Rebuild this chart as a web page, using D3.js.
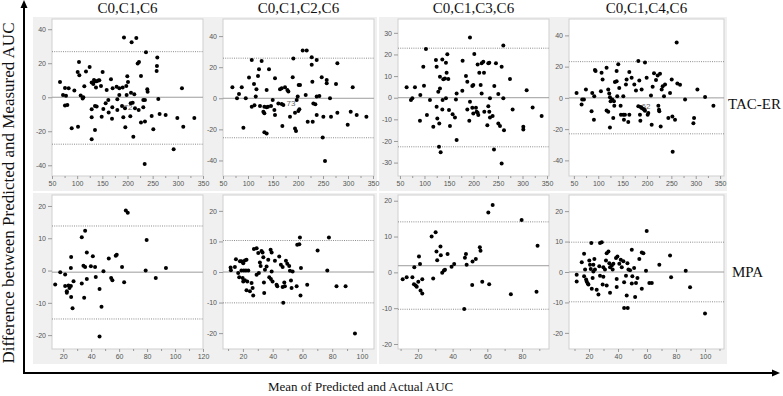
<!DOCTYPE html>
<html>
<head>
<meta charset="utf-8">
<script src="https://cdn.jsdelivr.net/npm/d3@7"></script>
<style>
	body { margin: 0; background: #fff; }
	.tick text { font-family: "Liberation Sans", Arial, sans-serif; font-size: 7px; fill: #555; }
	.tick line { stroke: #9a9a9a; }
	.serif { font-family: "Liberation Serif", "Times New Roman", serif; fill: #111; }
</style>
</head>
<body>
<svg id="chart" width="783" height="396"></svg>
<script>
var titles = ["C0,C1,C6", "C0,C1,C2,C6", "C0,C1,C3,C6", "C0,C1,C4,C6"];
var rowNames = ["TAC-ER", "MPA"];
var yTitle = "Difference between Predicted and Measured AUC";
var xTitle = "Mean of Predicted and Actual AUC";

var tacXTicks = [50, 100, 150, 200, 250, 300, 350];
var tacYTicks = [[-40, -20, 0, 20, 40], [-40, -20, 0, 20, 40], [-30, -20, -10, 0, 10, 20, 30], [-40, -20, 0, 20, 40]];
var mpaXTicks = [[20, 40, 60, 80, 100, 120], [20, 40, 60, 80, 100], [20, 40, 60, 80], [20, 40, 60, 80, 100]];
var mpaYTicks = [-20, -10, 0, 10, 20];

var tacXRange = [[50, 350], [50, 352], [46, 354], [40, 358]];
var tacYRange = [[-46.3, 46], [-50, 51], [-36.2, 36.4], [-50, 50.5]];
var mpaXRange = [[12, 120], [6.6, 108.1], [8.5, 95.6], [6.2, 113.1]];
var mpaYRange = [[-24.3, 23.4], [-25.2, 25.2], [-21.4, 21.6], [-25.3, 25.3]];

var tacMean = [0, 0, 0, 0];
var tacUpper = [26.8, 25.8, 22.9, 23.2];
var tacLower = [-27.6, -25.4, -22.7, -23];
var mpaMean = [-0.5, 0, 1.85, 0];
var mpaUpper = [13.8, 10.3, 14.1, 9.8];
var mpaLower = [-15, -10.1, -10.3, -9.8];

// outlier tags printed next to a point
var tacTags = [["72", 201, -5.7], ["73", 186, -3], null, ["62", 198, -5.6]];

// [mean, difference]
var tacC6 = [[193,35.1],[217.5,34.9],[208.2,32.3],[236.7,26.4],[259.2,23.3],[222.8,20.7],[220.2,19.8],[103.6,20.7],[124.8,17.8],[258.5,18.4],
	[101,14.9],[104.3,12.9],[117.5,15.1],[257.9,15.4],[150.6,14.9],[199.6,12.3],[226.8,12.5],[114.2,6.4],[65.9,9],[83.1,5.3],
	[94.4,3.9],[77.8,0.9],[110.9,-0.8],[112.2,0],[128.8,8.6],[132.1,7.8],[135.4,9.4],[138.7,9.4],[142,9.8],[144,10],
	[137.4,5.8],[147.3,6.6],[167.2,10.6],[170.5,5.3],[178.4,6.2],[183.7,5.3],[190.4,5.7],[201,9],[197.6,6.6],[239.3,4.7],
	[240,3.3],[308.2,5.3],[198.3,1.3],[206.9,2.7],[213.5,1.7],[75.8,-4.9],[80.5,-4.5],[128.8,-7.1],[135.4,-5.1],[138.7,-5.5],
	[152,-6.9],[162.6,-8.9],[169.8,-5.9],[179.8,-7.5],[189.1,-5.1],[195,-6.5],[206.3,-3.6],[210.3,-3.2],[231.4,-1.6],[234.7,-1.6],
	[214.9,-6.5],[231.4,-5.9],[261.2,-1],[128.8,-11.8],[148.7,-11.4],[169.2,-12.6],[191.7,-11.8],[205.6,-11.2],[226.8,-14.9],[234.7,-14.3],
	[263.8,-9.8],[275.8,-10.4],[248,-11],[222.2,-7.5],[89.1,-18.3],[101.7,-17.3],[135.4,-19.2],[195.7,-17.7],[251.3,-18.8],[299,-12.2],
	[310.8,-17.3],[332.8,-12.2],[128.8,-24.7],[211.6,-23.2],[291.7,-30.6],[234.1,-39.2],[75.8,5.5],[71.9,1.3],[156.6,-3.6],[161.9,-1.6],
	[179.8,-1.2],[183.7,1.3],[158.6,4.3],[107,1],[133.4,10.2]];

var tacC2 = [[68.8,7.1],[78,0],[82,2.8],[87.5,7.1],[90.8,-19],[95.5,0],[102,13.3],[107.5,24.7],[112,9.2],[107.5,-5.4],
	[112.9,-4.5],[116.9,5.8],[115.5,1.1],[122,18.7],[120,14.4],[127.3,24],[137.3,5.4],[142,18.7],[154,12.9],[124,-5],
	[132.7,-5.4],[130.7,-8.6],[132.7,-9.7],[137.3,-5.8],[140,-5.4],[146,-5],[149.4,-1.1],[154,-10.8],[152.7,-7.5],[160.7,-3.3],
	[167.4,-3.7],[170.7,-4.3],[164,5.8],[167.4,6.4],[174,7.1],[178.7,5.4],[180.7,4.3],[189.4,13.5],[190.7,25.6],[184,-11.9],
	[194,-19.4],[196,-21.1],[132.7,-21.9],[137.3,-22.6],[168.7,-17.9],[197.4,-1.1],[199.4,1.1],[204,8.6],[201.4,8.6],[202.7,-7.1],
	[194,-9.3],[200.7,-8.2],[209.4,30.7],[217.4,30.7],[215.4,2.1],[219.4,-15.1],[227.4,26.4],[227.4,21.5],[228.7,10.7],[237.4,24.7],
	[229.4,-15.1],[230.7,-3.3],[234.7,-3.9],[237.4,1.1],[242.7,1.5],[237.4,-10.8],[247.4,13.5],[250.7,-11.9],[257.4,11.8],[257.4,9.6],
	[249.4,-25.2],[254,-40.4],[264,0],[266,-11.9],[278.7,22.5],[276,9.2],[278.7,-9.3],[309.4,7.1],[299.4,-17],[305.4,-8.6],
	[317.4,-10.8],[336.8,-11.9]];

var tacC3 = [[63.6,4.8],[72.4,-1.1],[75.2,-0.3],[80.6,4.8],[91.5,1.2],[97.6,14.3],[99,5.5],[105,-8],[111.2,-1.1],[90.8,-10.7],
	[103,22.5],[123.4,17.4],[146.6,20.1],[124.8,-4.2],[129.6,-22.7],[133,-25.2],[118,-13.4],
	[124.8,14.3],[136.4,17.7],[143.8,16.2],[128.2,2.8],[131.6,4.3],[138.4,8.5],[141.8,8.9],[148.6,8.6],[145.2,11.6],
	[131.6,9.7],[137,-1.1],[136.4,-5.4],[126.2,-9.6],[130.2,-11.9],[143.8,-0.3],[150,-5.7],[152,-13.1],[157.4,-7.7],[162.2,-9.1],
	[165.6,-19.6],[164.2,-0.8],[165.6,2],[177.8,17.1],[177.2,3.2],[184.6,10],[187.4,7.4],[192.8,27.9],[192.8,-1.9],[187.4,-5.4],
	[191.4,-10.7],[197.6,-4.6],[197.6,5.4],[199.6,5.9],[201.6,20.2],[199.6,-7.3],[205,-4.6],[206.4,-6.5],[208.4,15.4],[208.4,-7],
	[209.8,-8],[211.8,11.6],[214.6,5.9],[216.6,2],[216.6,15.9],[220,16.6],[221.4,11.6],[222,-6.5],[228.2,-12.7],[230.2,15.9],
	[232.2,16.2],[230.2,-3.9],[232.2,-6.5],[233.6,-0.3],[233.6,-9.1],[239,-8.5],[242.4,5.4],[245.8,15.9],[250.6,1.7],[250.6,-11.9],
	[254,-13.1],[257.4,14.3],[260.8,-0.3],[262.2,-15],[260.8,24.1],[274.4,8.6],[279.8,-5.4],[301.6,-13.4],[301.6,-14.7],[308.4,3.5],
	[320.6,-4.5],[339,-8.5],[241.8,-24],[257.4,-30.4]];

var tacC4 = [[55.5,3.2],[65.8,-4.3],[67.1,-1.1],[70.6,-1.1],[74.7,5.4],[86.3,-8.6],[87.7,3.2],[91.1,-14],[91.8,1],[93.2,17.8],
	[94.5,17.2],[106.8,16.1],[108.9,11.8],[105.5,4.3],[117.1,19.3],[120.5,5.4],[122.6,2.8],[124,0.4],[125.3,-2.2],[128.7,-1.1],
	[132.2,-2.2],[132.9,-5],[134.2,10.1],[137.7,10.7],[139,1],[141.1,21.5],[143.1,6.4],[145.9,-5],[130.8,-12.9],[124,-19],
	[120.5,-8.8],[117.1,-8.1],[146.6,-10.8],[151.4,-10.8],[152.7,-14],[151.4,1],[156.8,8.6],[161.6,-15.5],[163.7,16.5],[137.7,17.2],
	[154.8,-10.8],[163.8,-10.8],[158.2,11.8],[168.5,12.9],[174,8.6],[177.4,4.7],[182.2,23.6],[184.2,11.1],[182.2,-5.4],[187,-5.8],
	[189,-6.5],[192.5,-7.1],[194.5,-7.6],[185.6,-10.8],[186.4,-14.6],[189,5.4],[195.9,-8.2],[195.9,22.6],[199.3,12.9],[201.4,-10.8],
	[202.7,-9.7],[208.2,1.5],[209.6,-17.2],[211.6,7.1],[214.4,15.7],[218.5,11.4],[221.9,14.4],[223.3,-5],[224.6,-7.6],[225.3,-8.6],
	[226.7,15.5],[228.1,-18.3],[230.1,5.4],[232.2,7.5],[234.9,1],[237,8.6],[243.8,-12.9],[247.3,3.2],[250.7,11.8],[252.1,-11.9],
	[257.5,-14],[252.7,-34.4],[260.9,35.4],[262.3,9.2],[267.8,8.4],[278.1,-1.1],[295.2,-16.2],[296.6,-12.9],[303.4,5.4],[319.2,0.6],
	[336.3,-5]];

var mpaC6 = [[14.3,-4.3],[17.9,-0.5],[21.4,-1.2],[21.4,-4.8],[22.6,-6.4],[22.6,-6.9],[23.8,-4.6],[24.5,-5.4],[25.7,-8.2],[25.5,0.8],
	[25.7,4.2],[26.7,-11.7],[27.4,-3.3],[25.5,-4.8],[33.3,10.3],[35.7,12.3],[33.3,-4],[35,-8.4],[34.5,1.5],[35.7,1.1],
	[36.9,5.6],[36.9,-2.6],[39.8,1.3],[41.2,4.4],[42.8,1.1],[43.3,-2],[46,-5.7],[47.4,-11.2],[46,-20.4],[48.8,-0.2],
	[52.6,3.7],[54.3,-2.3],[55.2,-3],[57.6,4.6],[58.3,4.9],[62.1,1.1],[63.6,-3.6],[64.8,18.6],[66.2,17.9],[79,0],
	[79.7,9.5],[86.2,-2.3],[93.5,0.8]];

var mpaC2 = [[11.7,1.5],[11.9,0.6],[15.3,4.2],[14.6,1.6],[16.8,-0.3],[18,3.5],[19,3.5],[20.2,2.9],[21.3,3.8],[22.4,4],
	[17.5,-1.7],[19.8,-2],[20.2,-3.1],[21.3,-2.7],[22.9,-3.1],[19,0.5],[20.6,0.5],[22,0.5],[23.6,0.5],[22.4,-6],
	[24.7,-6.3],[25.8,-3.6],[26.5,-5.2],[26.9,-7.7],[27.4,7.5],[29.2,7.8],[30.3,6.2],[29.2,-0.9],[30.7,-0.3],[31.4,3.1],
	[31.9,2],[32.5,6.9],[33.2,6.4],[33.7,4.8],[34.1,-3.4],[34.3,-6.9],[34.8,0.7],[35.9,1.8],[37,4],[37.7,-1.7],
	[38.6,7.3],[39.3,6.4],[39.3,0.2],[38.8,-2.3],[39.9,-3.1],[41.5,3.7],[42.6,-4.2],[43.1,-4.7],[44.4,5.1],[45.5,2.4],
	[46.7,1.6],[46.7,-4.9],[47.1,-10.1],[47.8,-3.4],[48.2,-4.7],[48.9,3.7],[49.8,2.7],[51.1,2],[51.6,0.4],[52.3,-2.8],
	[52.7,-5.2],[53.4,0.2],[56.1,-4.7],[56.5,8.9],[57.9,9.1],[58.3,11.3],[59,1.3],[58.7,-7.7],[63.2,-4.2],[70.2,7],
	[76.7,0.5],[77.8,11.3],[82.9,-4.7],[89,-4.7],[95.3,-20.1]];

var mpaC3 = [[11.2,-1.9],[13.5,-1.4],[16.8,-1.4],[17.7,-3.3],[18.7,-3.7],[19.3,-4],[17.9,1.4],[20.2,-2.6],[20.6,4.4],[21.2,2.3],
	[21.5,-5.1],[22.5,-5.9],[22.5,-1.9],[27.9,10],[30.2,11.2],[28.8,-1.7],[30.7,5.8],[31.1,3.4],[33,7.2],[33.2,4.8],
	[34,-0.1],[35,0.5],[35.6,0.7],[37.1,5.1],[39.4,1.6],[40.9,2.3],[46.7,-10.2],[47.1,4.1],[47.7,5.1],[48.1,2.1],
	[51.3,-3.5],[51.5,3],[53.4,3.7],[55.7,7],[56.1,6],[57.1,-2.6],[60.6,16.7],[61.1,-3.3],[63.1,18.8],[73.6,-6.1],
	[79.8,14.6],[88.4,-5.4],[89,7.4]];

var mpaC4 = [[11.5,-0.9],[11.5,-3.1],[15,3.2],[16.6,6],[16.6,-1.4],[17.3,0.8],[18.4,-3.1],[19.1,-3.8],[18,-2.5],[19.6,-4.1],
	[20.2,3.8],[20.7,2.4],[21.2,1],[21.6,9.5],[21.9,-5.5],[22.5,-2],[23,0.2],[23,2.4],[23.7,4.3],[24.1,0.8],
	[25.3,-5.8],[26.5,-7.4],[27.1,1.9],[27.6,9.5],[28.8,9.8],[32.2,6.2],[33.4,6.7],[34.5,-6.8],[29.9,1.6],[27.6,-1.2],
	[29.9,-1.6],[29.4,-4.1],[32.2,-4.4],[31,0.8],[31.7,3.8],[34,2.9],[34.5,1.6],[35.7,2.1],[36.3,0.8],[36.8,2.7],
	[38.6,4.6],[39.6,5.1],[39.1,-2.3],[39.1,-4.9],[40.9,2.7],[41.9,4],[42.6,1.6],[43.7,3.5],[44.2,-3.4],[45.5,-1.2],
	[46.5,2.9],[46,-7.7],[47.2,0.8],[48.3,0.6],[49.5,7.3],[49.9,-1.4],[49.5,-3.8],[51.1,1.3],[51.8,-8.2],[52.4,-3.6],
	[53.4,-2],[54.7,4.3],[56.4,6.4],[57.5,6.2],[56.4,-5.5],[59.8,13.5],[59.3,0.4],[61.6,-3.6],[63.3,-3.6],[68.5,2.4],
	[75.9,5.4],[76.6,-1.7],[86.7,0.4],[89.7,-5],[100,-13.6],[44.2,-11.8],[46.7,-11.8]];

var tacSeries = [tacC6, tacC2, tacC3, tacC4];
var mpaSeries = [mpaC6, mpaC2, mpaC3, mpaC4];

var svg = d3.select("#chart");
var frameLayer = svg.append("g");
var cols = [{ l: 52, r: 203 }, { l: 223, r: 374 }, { l: 398, r: 549 }, { l: 569, r: 724 }];
var rows = [{ t: 19, b: 176 }, { t: 195, b: 349 }];

function plain(d) { return String(d); }

function dropDomain(a) { a.select(".domain").remove(); }

function drawPanel(col, row, opt) {
	var box = { l: col.l, r: col.r, t: row.t, b: row.b };
	var x = d3.scaleLinear().domain(opt.xDomain).range([box.l, box.r]);
	var y = d3.scaleLinear().domain(opt.yDomain).range([box.b, box.t]);

	frameLayer.append("rect")
		.attr("x", box.l - 19).attr("y", box.t - 2)
		.attr("width", box.r - box.l + 22).attr("height", box.b - box.t + 17)
		.attr("fill", "#f0f0f0");

	var g = svg.append("g");
	g.append("rect")
		.attr("x", box.l).attr("y", box.t)
		.attr("width", box.r - box.l).attr("height", box.b - box.t)
		.attr("fill", "#fff").attr("stroke", "#cfcfcf");

	var step = opt.xTicks[1] - opt.xTicks[0];
	var minor = d3.range(opt.xTicks[0] - step / 2, opt.xDomain[1], step / 2)
		.filter(function (v) { return v >= opt.xDomain[0] && opt.xTicks.indexOf(v) === -1; });

	g.append("g").attr("transform", "translate(0," + box.b + ")")
		.call(d3.axisBottom(x).tickValues(minor).tickSize(2).tickFormat(""))
		.call(dropDomain);
	g.append("g").attr("transform", "translate(0," + box.b + ")")
		.call(d3.axisBottom(x).tickValues(opt.xTicks).tickSize(3).tickPadding(2).tickFormat(plain))
		.call(dropDomain);
	g.append("g").attr("transform", "translate(" + box.l + ",0)")
		.call(d3.axisLeft(y).tickValues(opt.yTicks).tickSize(4).tickPadding(2).tickFormat(plain))
		.call(dropDomain);

	g.append("line")
		.attr("x1", box.l).attr("x2", box.r)
		.attr("y1", y(opt.mean)).attr("y2", y(opt.mean))
		.attr("stroke", "#9c9c9c");
	[opt.upper, opt.lower].forEach(function (v) {
		g.append("line")
			.attr("x1", box.l).attr("x2", box.r)
			.attr("y1", y(v)).attr("y2", y(v))
			.attr("stroke", "#8c8c8c").attr("stroke-dasharray", "1,1.2");
	});

	if (opt.tag) {
		g.append("text")
			.attr("x", x(opt.tag[1])).attr("y", y(opt.tag[2]))
			.attr("text-anchor", "middle").attr("dy", "0.35em")
			.style("font-family", "Liberation Sans, Arial, sans-serif")
			.style("font-size", "8px").style("fill", "#666")
			.text(opt.tag[0]);
	}

	g.append("g").selectAll("circle")
		.data(opt.points)
		.enter()
			.append("circle")
				.attr("cx", function (d) { return x(d[0]); })
				.attr("cy", function (d) { return y(d[1]); })
				.attr("r", 2)
				.attr("fill", "#000");
}

cols.forEach(function (col, i) {
	drawPanel(col, rows[0], {
		xDomain: tacXRange[i], yDomain: tacYRange[i],
		xTicks: tacXTicks, yTicks: tacYTicks[i],
		mean: tacMean[i], upper: tacUpper[i], lower: tacLower[i],
		points: tacSeries[i], tag: tacTags[i]
	});
	drawPanel(col, rows[1], {
		xDomain: mpaXRange[i], yDomain: mpaYRange[i],
		xTicks: mpaXTicks[i], yTicks: mpaYTicks,
		mean: mpaMean[i], upper: mpaUpper[i], lower: mpaLower[i],
		points: mpaSeries[i], tag: null
	});

	svg.append("text").attr("class", "serif")
		.attr("x", (col.l + col.r) / 2).attr("y", 13)
		.attr("text-anchor", "middle")
		.style("font-size", "15px")
		.text(titles[i]);
});

svg.append("text").attr("class", "serif").attr("x", 728).attr("y", 109).style("font-size", "15px").text(rowNames[0]);
svg.append("text").attr("class", "serif").attr("x", 732).attr("y", 277).style("font-size", "15px").text(rowNames[1]);

// framing axes with arrow heads
svg.append("line").attr("x1", 24).attr("x2", 24).attr("y1", 374).attr("y2", 6)
	.attr("stroke", "#000").attr("stroke-width", 2);
svg.append("path").attr("d", "M24,0L20.5,8L27.5,8Z").attr("fill", "#000");
svg.append("line").attr("x1", 23).attr("x2", 773).attr("y1", 373).attr("y2", 373)
	.attr("stroke", "#000").attr("stroke-width", 2);
svg.append("path").attr("d", "M780,373L772,369.5L772,376.5Z").attr("fill", "#000");

svg.append("text").attr("class", "serif")
	.attr("transform", "translate(14,193) rotate(-90)")
	.attr("text-anchor", "middle")
	.style("font-size", "17px")
	.text(yTitle);
svg.append("text").attr("class", "serif")
	.attr("x", 268).attr("y", 391)
	.style("font-size", "13px")
	.text(xTitle);
</script>
</body>
</html>
